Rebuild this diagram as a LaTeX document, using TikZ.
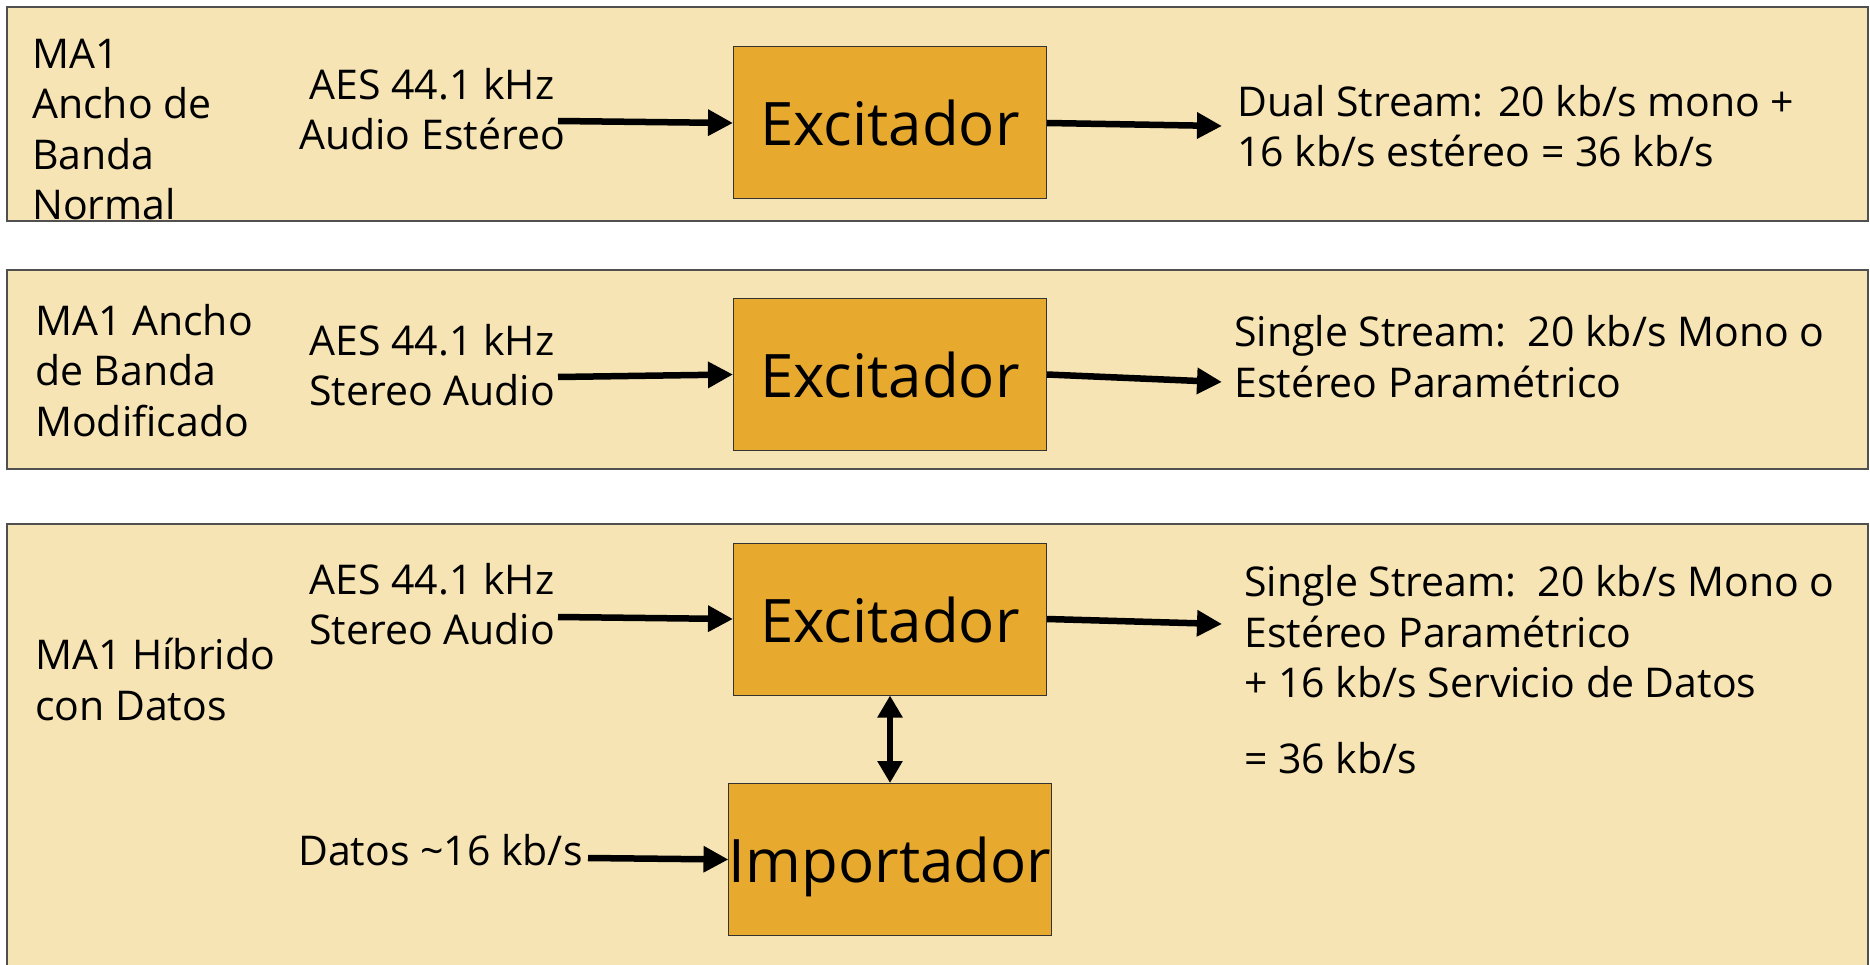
\documentclass[tikz,border=0pt]{standalone}
\usepackage{fontspec}
\setmainfont{Open Sans}
\usetikzlibrary{arrows.meta}
\definecolor{panelfill}{HTML}{F6E4B4}
\definecolor{boxfill}{HTML}{E7A92E}
\definecolor{panelline}{HTML}{505050}
\begin{document}
\begin{tikzpicture}[x=1pt,y=-1pt,
  panel/.style={draw=panelline, line width=1.5pt, fill=panelfill},
  block/.style={draw=black!80, line width=1pt, fill=boxfill, minimum width=313pt, minimum height=152pt, inner sep=0pt, font=\fontsize{60}{72}\selectfont, text height=46pt, text depth=0pt},
  lbl/.style={inner sep=0pt, align=left, font=\fontsize{41}{50.5}\selectfont},
  clbl/.style={inner sep=0pt, align=center, font=\fontsize{41}{50}\selectfont},
  arr/.style={line width=6.5pt, -{Triangle[length=25pt,width=25pt]}},
  darr/.style={line width=6pt, {Triangle[length=22pt,width=24pt]}-{Triangle[length=22pt,width=24pt]}}
]
\clip (0,0) rectangle (1870,965);
\fill[white] (0,0) rectangle (1870,965);

% Panel 1
\draw[panel] (7,7) rectangle (1868,221);
\node[lbl, anchor=base west] (l1) at (32,220) {MA1\\Ancho de\\Banda\\Normal};
\node[clbl, anchor=base] (a1) at (432,150) {AES 44.1 kHz\\Audio Estéreo};
\node[block] (e1) at (890,123) {Excitador};
\node[lbl, anchor=base west] (o1) at (1237,167) {Dual Stream: 20 kb/s mono +\\16 kb/s estéreo = 36 kb/s};
\coordinate (s1) at (558,121);
\coordinate (t1) at (1222,126);
\draw[arr] (s1) -- (e1.west);
\draw[arr] (e1.east) -- (t1);

% Panel 2
\draw[panel] (7,270) rectangle (1868,469);
\node[lbl, anchor=base west] (l2) at (35,436) {MA1 Ancho\\de Banda\\Modificado};
\node[clbl, anchor=base] (a2) at (432,405) {AES 44.1 kHz\\Stereo Audio};
\node[block] (e2) at (890,374.5) {Excitador};
\node[lbl, anchor=base west] (o2) at (1234,397) {Single Stream:\ \ 20 kb/s Mono o\\Estéreo Paramétrico};
\coordinate (s2) at (558,377);
\coordinate (t2) at (1222,382);
\draw[arr] (s2) -- (e2.west);
\draw[arr] (e2.east) -- (t2);

% Panel 3
\draw[panel] (7,524) rectangle (1868,990);
\node[lbl, anchor=base west] (l3) at (35,720) {MA1 Híbrido\\con Datos};
\node[clbl, anchor=base] (a3) at (432,644) {AES 44.1 kHz\\Stereo Audio};
\node[block] (e3) at (890,619) {Excitador};
\node[block] (i3) at (890,859.5) {Importador};
\node[lbl, anchor=base west] (d3) at (298,865) {Datos \textasciitilde16 kb/s};
\node[lbl, anchor=base west] (o3) at (1244,773) {Single Stream:\ \ 20 kb/s Mono o\\Estéreo Paramétrico\\+ 16 kb/s Servicio de Datos\\[25pt]= 36 kb/s};
\coordinate (s3) at (558,617);
\coordinate (t3) at (1222,624);
\coordinate (s4) at (588,858);
\draw[arr] (s3) -- (e3.west);
\draw[arr] (e3.east) -- (t3);
\draw[arr] (s4) -- (i3.west);
\draw[darr] (e3.south) -- (i3.north);
\end{tikzpicture}
\end{document}
